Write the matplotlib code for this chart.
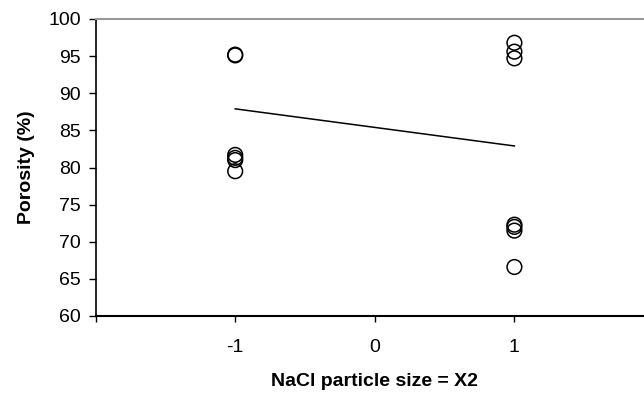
import numpy as np
import matplotlib.pyplot as plt

# porosity readings at the two coded levels of X2
x_low = [-1, -1, -1, -1, -1, -1]
y_low = [95.1, 95.2, 81.7, 81.3, 81.0, 79.5]
x_high = [1, 1, 1, 1, 1, 1, 1]
y_high = [96.8, 95.6, 94.7, 72.3, 72.0, 71.5, 66.6]

# fitted trend line
fit_x = [-1, 1]
fit_y = [87.9, 82.9]

x_ticks = [-2, -1, 0, 1, 2]
x_ticklabels = ['', '-1', '0', '1', '']
y_ticks = [60, 65, 70, 75, 80, 85, 90, 95, 100]

plt.rcParams['font.family'] = ['Liberation Sans', 'DejaVu Sans']

fig = plt.figure(figsize=(6.44, 3.96), dpi=100)
# plot area runs a little past the right edge (cropped original)
ax = fig.add_axes([95.6 / 644, 1 - 316 / 396, (654 - 95.6) / 644, (316 - 19) / 396])

ax.scatter(x_low + x_high, y_low + y_high, s=112, facecolors='none',
           edgecolors='black', linewidths=1.1, zorder=3, clip_on=False)
ax.plot(fit_x, fit_y, color='black', lw=1.1)

ax.set_xlim(-2, 2)
ax.set_ylim(60, 100)
ax.set_xticks(x_ticks)
ax.set_xticklabels(x_ticklabels)
ax.set_yticks(y_ticks)

ax.spines['right'].set_visible(False)
ax.spines['top'].set_color('#999999')
ax.spines['top'].set_linewidth(1.5)
ax.spines['bottom'].set_linewidth(1.5)
ax.spines['left'].set_linewidth(1.2)

ax.tick_params(axis='both', direction='out', width=1.0, labelsize=14)
ax.tick_params(axis='y', length=5, pad=5.5)
ax.tick_params(axis='x', length=4.5, pad=12)

ax.set_xlabel('NaCl particle size = X2', fontsize=14, fontweight='bold', labelpad=12)
ax.set_ylabel('Porosity (%)', fontsize=14, fontweight='bold', labelpad=10)

fig.savefig('out.png', dpi=100)
